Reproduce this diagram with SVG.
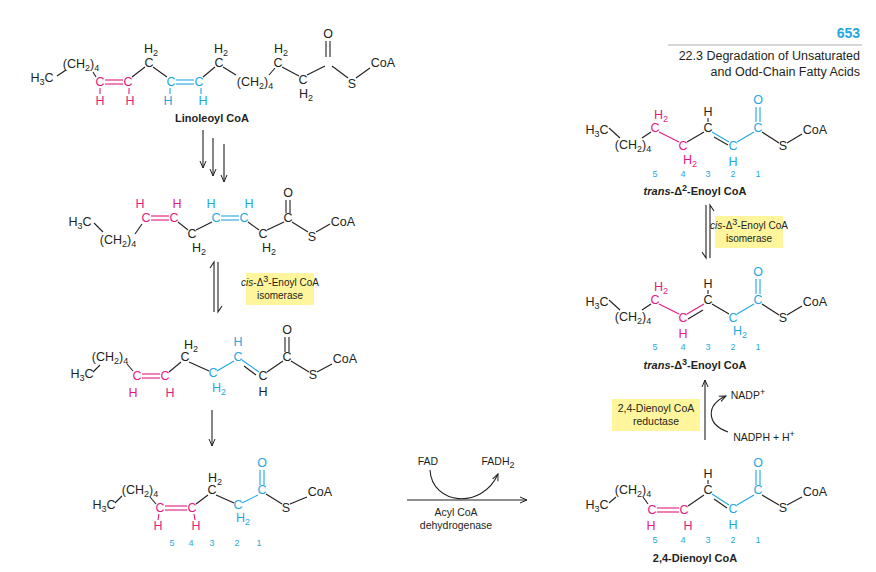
<svg xmlns="http://www.w3.org/2000/svg" width="876" height="572" viewBox="0 0 876 572">
<style>
text{font-family:"Liberation Sans",Arial,sans-serif;font-size:12.5px;text-anchor:middle;fill:#231f20}
.m{fill:#e5197f}.c{fill:#1fa8e0}
.s{font-size:9px}
.lab{font-size:11px;font-weight:bold}
.num{font-size:9px;fill:#1fa8e0}
line,path{stroke:#231f20;stroke-width:1.1;fill:none}
.lm{stroke:#e5197f}.lc{stroke:#1fa8e0}
.box{fill:#fff59d;stroke:none}
.ar{marker-end:url(#ah)}
.small{font-size:10.5px}
.bx{font-size:10px}
</style>
<defs><marker id="ah" markerWidth="8" markerHeight="8" refX="7" refY="4" orient="auto" markerUnits="userSpaceOnUse"><path d="M0,1 L7,4 L0,7" style="stroke:#231f20;fill:none;stroke-width:1"/></marker></defs>

<g id="header">
<text x="860" y="38" style="text-anchor:end;font-size:14px;font-weight:bold;fill:#1fa8e0">653</text>
<line x1="668" y1="45" x2="862" y2="45" style="stroke:#999;stroke-width:0.8"/>
<text x="860" y="60" style="text-anchor:end">22.3 Degradation of Unsaturated</text>
<text x="860" y="76" style="text-anchor:end">and Odd-Chain Fatty Acids</text>
</g>

<g id="linoleoyl">
<text x="42" y="82">H<tspan class="s" dy="3">3</tspan><tspan dy="-3">C</tspan></text>
<text x="81" y="68">(CH<tspan class="s" dy="3">2</tspan><tspan dy="-3">)</tspan><tspan class="s" dy="3">4</tspan></text>
<text x="100" y="86" class="m">C</text><text x="128" y="86" class="m">C</text>
<text x="100" y="105" class="m">H</text><text x="130" y="105" class="m">H</text>
<text x="149" y="67">C</text><text x="151" y="53">H<tspan class="s" dy="3">2</tspan></text>
<text x="171" y="86" class="c">C</text><text x="199" y="86" class="c">C</text>
<text x="168" y="105" class="c">H</text><text x="203" y="105" class="c">H</text>
<text x="219" y="67">C</text><text x="221" y="53">H<tspan class="s" dy="3">2</tspan></text>
<text x="255" y="86">(CH<tspan class="s" dy="3">2</tspan><tspan dy="-3">)</tspan><tspan class="s" dy="3">4</tspan></text>
<text x="278" y="67">C</text><text x="281" y="53">H<tspan class="s" dy="3">2</tspan></text>
<text x="303" y="84">C</text><text x="306" y="98">H<tspan class="s" dy="3">2</tspan></text>
<text x="328" y="38">O</text>
<text x="352" y="88">S</text><text x="383" y="67">CoA</text>
<line x1="57" y1="76" x2="66" y2="70"/><line x1="93" y1="72" x2="96" y2="77"/>
<line class="lm" x1="105" y1="80" x2="123" y2="80"/><line class="lm" x1="105" y1="84" x2="123" y2="84"/>
<line class="lm" x1="100" y1="88" x2="100" y2="94"/><line class="lm" x1="129" y1="88" x2="129" y2="94"/>
<line x1="132" y1="77" x2="145" y2="67"/><line x1="153" y1="67" x2="167" y2="77"/>
<line class="lc" x1="176" y1="80" x2="194" y2="80"/><line class="lc" x1="176" y1="84" x2="194" y2="84"/>
<line class="lc" x1="170" y1="88" x2="170" y2="94"/><line class="lc" x1="201" y1="88" x2="201" y2="94"/>
<line x1="203" y1="77" x2="215" y2="67"/><line x1="223" y1="67" x2="236" y2="75"/>
<line x1="269" y1="75" x2="275" y2="68"/><line x1="282" y1="67" x2="299" y2="76"/>
<line x1="307" y1="75" x2="325" y2="66"/>
<line x1="326" y1="41" x2="326" y2="57"/><line x1="330" y1="41" x2="330" y2="57"/>
<line x1="332" y1="66" x2="348" y2="78"/><line x1="356" y1="78" x2="370" y2="68"/>
<text x="212" y="122" class="lab">Linoleoyl CoA</text>
</g>

<g id="conn">
<line class="ar" x1="203" y1="130" x2="203" y2="168"/>
<line class="ar" x1="213" y1="138" x2="213" y2="176"/>
<line class="ar" x1="224" y1="144" x2="224" y2="182"/>
<path d="M214,312 L214,262 L210,268"/>
<path d="M218,262 L218,312 L222,306"/>
<line class="ar" x1="212" y1="410" x2="212" y2="446"/>
<line class="ar" x1="407" y1="500" x2="527" y2="500"/>
<path class="ar" d="M430,470 C432,505 482,510 498,474"/>
<line class="ar" x1="705" y1="440" x2="705" y2="380"/>
<path d="M706,205 L706,258 L702,252"/>
<path d="M710,258 L710,205 L714,211"/>
<path class="ar" d="M728,432 C706,424 706,405 726,396"/>
</g>

<g id="enzymes">
<rect class="box" x="246" y="273" width="68" height="32"/>
<text x="280" y="286" class="bx"><tspan font-style="italic">cis</tspan>-Δ<tspan class="s" dy="-4">3</tspan><tspan dy="4">-Enoyl CoA</tspan></text>
<text x="280" y="299" class="bx">isomerase</text>
<rect class="box" x="715" y="216" width="68" height="32"/>
<text x="749" y="229" class="bx"><tspan font-style="italic">cis</tspan>-Δ<tspan class="s" dy="-4">3</tspan><tspan dy="4">-Enoyl CoA</tspan></text>
<text x="749" y="242" class="bx">isomerase</text>
<rect class="box" x="612" y="399" width="88" height="32"/>
<text x="656" y="412" class="small">2,4-Dienoyl CoA</text>
<text x="656" y="425" class="small">reductase</text>
<text x="428" y="465" class="small">FAD</text>
<text x="498" y="465" class="small">FADH<tspan class="s" dy="3">2</tspan></text>
<text x="456" y="516" class="small">Acyl CoA</text>
<text x="456" y="529" class="small">dehydrogenase</text>
<text x="748" y="399" class="small">NADP<tspan class="s" dy="-4">+</tspan></text>
<text x="764" y="441" class="small">NADPH + H<tspan class="s" dy="-4">+</tspan></text>
</g>

<g id="mol2">
<text x="80" y="226">H<tspan class="s" dy="3">3</tspan><tspan dy="-3">C</tspan></text>
<text x="118" y="244">(CH<tspan class="s" dy="3">2</tspan><tspan dy="-3">)</tspan><tspan class="s" dy="3">4</tspan></text>
<text x="146" y="222" class="m">C</text><text x="174" y="222" class="m">C</text>
<text x="140" y="208" class="m">H</text><text x="177" y="208" class="m">H</text>
<text x="192" y="238">C</text><text x="199" y="252">H<tspan class="s" dy="3">2</tspan></text>
<text x="216" y="222" class="c">C</text><text x="244" y="222" class="c">C</text>
<text x="211" y="208" class="c">H</text><text x="249" y="208" class="c">H</text>
<text x="263" y="238">C</text><text x="269" y="252">H<tspan class="s" dy="3">2</tspan></text>
<text x="288" y="222">C</text><text x="288" y="197">O</text>
<text x="312" y="241">S</text><text x="343" y="226">CoA</text>
<line x1="94" y1="223" x2="103" y2="232"/><line x1="135" y1="234" x2="142" y2="224"/>
<line class="lm" x1="151" y1="216" x2="169" y2="216"/><line class="lm" x1="151" y1="220" x2="169" y2="220"/>
<line x1="178" y1="222" x2="188" y2="230"/><line x1="196" y1="230" x2="212" y2="222"/>
<line class="lc" x1="221" y1="216" x2="239" y2="216"/><line class="lc" x1="221" y1="220" x2="239" y2="220"/>
<line x1="248" y1="222" x2="259" y2="230"/><line x1="267" y1="230" x2="284" y2="222"/>
<line x1="286" y1="200" x2="286" y2="213"/><line x1="290" y1="200" x2="290" y2="213"/>
<line x1="292" y1="222" x2="308" y2="232"/><line x1="316" y1="232" x2="330" y2="224"/>
</g>

<g id="mol3">
<text x="82" y="378">H<tspan class="s" dy="3">3</tspan><tspan dy="-3">C</tspan></text>
<text x="110" y="361">(CH<tspan class="s" dy="3">2</tspan><tspan dy="-3">)</tspan><tspan class="s" dy="3">4</tspan></text>
<text x="137" y="380" class="m">C</text><text x="165" y="380" class="m">C</text>
<text x="133" y="397" class="m">H</text><text x="170" y="397" class="m">H</text>
<text x="185" y="361">C</text><text x="191" y="349">H<tspan class="s" dy="3">2</tspan></text>
<text x="213" y="377" class="c">C</text><text x="219" y="392" class="c">H<tspan class="s" dy="3">2</tspan></text>
<text x="238" y="361" class="c">C</text><text x="238" y="346" class="c">H</text>
<text x="263" y="380">C</text><text x="263" y="396">H</text>
<text x="287" y="361">C</text><text x="287" y="334">O</text>
<text x="313" y="379">S</text><text x="345" y="363">CoA</text>
<line x1="93" y1="372" x2="100" y2="365"/><line x1="127" y1="364" x2="133" y2="371"/>
<line class="lm" x1="142" y1="374" x2="160" y2="374"/><line class="lm" x1="142" y1="378" x2="160" y2="378"/>
<line x1="169" y1="372" x2="181" y2="362"/><line x1="189" y1="362" x2="209" y2="371"/>
<line class="lc" x1="217" y1="371" x2="234" y2="361"/>
<line class="lc" x1="242" y1="360" x2="259" y2="372"/><line x1="244" y1="366" x2="256" y2="375"/>
<line x1="267" y1="372" x2="283" y2="361"/>
<line x1="285" y1="337" x2="285" y2="352"/><line x1="289" y1="337" x2="289" y2="352"/>
<line x1="291" y1="361" x2="309" y2="372"/><line x1="317" y1="372" x2="332" y2="364"/>
</g>

<g id="mol4">
<text x="104" y="509">H<tspan class="s" dy="3">3</tspan><tspan dy="-3">C</tspan></text>
<text x="140" y="494">(CH<tspan class="s" dy="3">2</tspan><tspan dy="-3">)</tspan><tspan class="s" dy="3">4</tspan></text>
<text x="160" y="512" class="m">C</text><text x="192" y="512" class="m">C</text>
<text x="158" y="530" class="m">H</text><text x="196" y="530" class="m">H</text>
<text x="212" y="494">C</text><text x="215" y="482">H<tspan class="s" dy="3">2</tspan></text>
<text x="238" y="509" class="c">C</text><text x="243" y="522" class="c">H<tspan class="s" dy="3">2</tspan></text>
<text x="262" y="494" class="c">C</text><text x="262" y="467" class="c">O</text>
<text x="286" y="512">S</text><text x="320" y="496">CoA</text>
<line x1="115" y1="503" x2="122" y2="496"/><line x1="150" y1="497" x2="156" y2="504"/>
<line class="lm" x1="165" y1="506" x2="187" y2="506"/><line class="lm" x1="165" y1="510" x2="187" y2="510"/>
<line class="lm" x1="159" y1="514" x2="158" y2="520"/><line class="lm" x1="194" y1="514" x2="195" y2="520"/>
<line x1="196" y1="504" x2="208" y2="495"/><line x1="216" y1="495" x2="234" y2="503"/>
<line class="lc" x1="242" y1="503" x2="258" y2="495"/>
<line class="lc" x1="260" y1="470" x2="260" y2="485"/><line class="lc" x1="264" y1="470" x2="264" y2="485"/>
<line x1="266" y1="494" x2="282" y2="504"/><line x1="290" y1="504" x2="307" y2="497"/>
<text x="172" y="546" class="num">5</text><text x="191" y="546" class="num">4</text><text x="212" y="546" class="num">3</text><text x="237" y="546" class="num">2</text><text x="259" y="546" class="num">1</text>
</g>

<g id="mol5">
<text x="597" y="134">H<tspan class="s" dy="3">3</tspan><tspan dy="-3">C</tspan></text>
<text x="633" y="149">(CH<tspan class="s" dy="3">2</tspan><tspan dy="-3">)</tspan><tspan class="s" dy="3">4</tspan></text>
<text x="655" y="132" class="m">C</text><text x="661" y="119" class="m">H<tspan class="s" dy="3">2</tspan></text>
<text x="683" y="150" class="m">C</text><text x="690" y="164" class="m">H<tspan class="s" dy="3">2</tspan></text>
<text x="708" y="132">C</text><text x="708" y="116">H</text>
<text x="733" y="150" class="c">C</text><text x="733" y="166" class="c">H</text>
<text x="758" y="132" class="c">C</text><text x="758" y="104" class="c">O</text>
<text x="783" y="150">S</text><text x="815" y="134">CoA</text>
<line x1="609" y1="128" x2="620" y2="138"/><line x1="642" y1="138" x2="651" y2="132"/>
<line class="lm" x1="659" y1="132" x2="679" y2="142"/>
<line x1="687" y1="142" x2="704" y2="132"/><line x1="708" y1="118" x2="708" y2="122"/>
<line class="lc" x1="712" y1="132" x2="729" y2="142"/><line x1="714" y1="137" x2="728" y2="145"/>
<line class="lc" x1="737" y1="142" x2="754" y2="132"/>
<line class="lc" x1="756" y1="107" x2="756" y2="122"/><line class="lc" x1="760" y1="107" x2="760" y2="122"/>
<line x1="762" y1="132" x2="779" y2="143"/><line x1="787" y1="143" x2="802" y2="134"/>
<text x="655" y="177" class="num">5</text><text x="683" y="177" class="num">4</text><text x="708" y="177" class="num">3</text><text x="733" y="177" class="num">2</text><text x="758" y="177" class="num">1</text>
<text x="695" y="195" class="lab"><tspan font-style="italic">trans</tspan>-Δ<tspan class="s" dy="-4">2</tspan><tspan dy="4">-Enoyl CoA</tspan></text>
</g>

<g id="mol6">
<text x="597" y="306">H<tspan class="s" dy="3">3</tspan><tspan dy="-3">C</tspan></text>
<text x="633" y="321">(CH<tspan class="s" dy="3">2</tspan><tspan dy="-3">)</tspan><tspan class="s" dy="3">4</tspan></text>
<text x="655" y="304" class="m">C</text><text x="661" y="291" class="m">H<tspan class="s" dy="3">2</tspan></text>
<text x="683" y="322" class="m">C</text><text x="683" y="338" class="m">H</text>
<text x="708" y="304">C</text><text x="708" y="288">H</text>
<text x="733" y="322" class="c">C</text><text x="740" y="335" class="c">H<tspan class="s" dy="3">2</tspan></text>
<text x="758" y="304" class="c">C</text><text x="758" y="276" class="c">O</text>
<text x="783" y="322">S</text><text x="815" y="306">CoA</text>
<line x1="609" y1="300" x2="620" y2="310"/><line x1="642" y1="310" x2="651" y2="304"/>
<line class="lm" x1="659" y1="304" x2="679" y2="314"/>
<line class="lm" x1="687" y1="314" x2="704" y2="304"/><line x1="688" y1="319" x2="703" y2="310"/>
<line x1="708" y1="290" x2="708" y2="294"/>
<line x1="712" y1="304" x2="729" y2="314"/>
<line class="lc" x1="737" y1="314" x2="754" y2="304"/>
<line class="lc" x1="756" y1="279" x2="756" y2="294"/><line class="lc" x1="760" y1="279" x2="760" y2="294"/>
<line x1="762" y1="304" x2="779" y2="315"/><line x1="787" y1="315" x2="802" y2="306"/>
<text x="655" y="350" class="num">5</text><text x="683" y="350" class="num">4</text><text x="708" y="350" class="num">3</text><text x="733" y="350" class="num">2</text><text x="758" y="350" class="num">1</text>
<text x="695" y="369" class="lab"><tspan font-style="italic">trans</tspan>-Δ<tspan class="s" dy="-4">3</tspan><tspan dy="4">-Enoyl CoA</tspan></text>
</g>

<g id="mol7">
<text x="597" y="509">H<tspan class="s" dy="3">3</tspan><tspan dy="-3">C</tspan></text>
<text x="633" y="494">(CH<tspan class="s" dy="3">2</tspan><tspan dy="-3">)</tspan><tspan class="s" dy="3">4</tspan></text>
<text x="652" y="514" class="m">C</text><text x="651" y="530" class="m">H</text>
<text x="684" y="514" class="m">C</text><text x="688" y="530" class="m">H</text>
<text x="708" y="494">C</text><text x="708" y="478">H</text>
<text x="733" y="513" class="c">C</text><text x="733" y="529" class="c">H</text>
<text x="758" y="494" class="c">C</text><text x="758" y="467" class="c">O</text>
<text x="783" y="512">S</text><text x="815" y="496">CoA</text>
<line x1="609" y1="503" x2="616" y2="497"/><line x1="643" y1="497" x2="648" y2="504"/>
<line class="lm" x1="657" y1="508" x2="679" y2="508"/><line class="lm" x1="657" y1="512" x2="679" y2="512"/>
<line x1="688" y1="506" x2="704" y2="495"/><line x1="708" y1="480" x2="708" y2="484"/>
<line class="lc" x1="712" y1="494" x2="729" y2="505"/><line x1="714" y1="499" x2="727" y2="508"/>
<line class="lc" x1="737" y1="505" x2="754" y2="495"/>
<line class="lc" x1="756" y1="470" x2="756" y2="485"/><line class="lc" x1="760" y1="470" x2="760" y2="485"/>
<line x1="762" y1="495" x2="779" y2="505"/><line x1="787" y1="505" x2="802" y2="497"/>
<text x="655" y="543" class="num">5</text><text x="683" y="543" class="num">4</text><text x="708" y="543" class="num">3</text><text x="733" y="543" class="num">2</text><text x="758" y="543" class="num">1</text>
<text x="695" y="562" class="lab">2,4-Dienoyl CoA</text>
</g>
</svg>
